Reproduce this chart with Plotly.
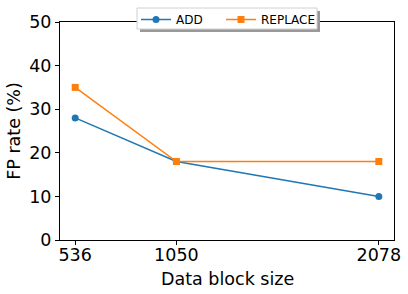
import plotly.graph_objects as go

block_sizes = [536, 1050, 2078]
add_fp = [28, 18, 10]
replace_fp = [35, 18, 18]
y_ticks = [0, 10, 20, 30, 40, 50]

fig = go.Figure()
fig.add_trace(go.Scatter(x=block_sizes, y=add_fp, mode="lines+markers", name="ADD",
                         line=dict(color="#1f77b4", width=1.5),
                         marker=dict(symbol="circle", size=7, color="#1f77b4"),
                         legend="legend"))
fig.add_trace(go.Scatter(x=block_sizes, y=replace_fp, mode="lines+markers", name="REPLACE",
                         line=dict(color="#ff7f0e", width=1.5),
                         marker=dict(symbol="square", size=7, color="#ff7f0e"),
                         legend="legend2"))

W, H = 408, 294
L, R, T, B = 60, 14, 22, 54
pw, ph = W - L - R, H - T - B

def px_x(p):
    return (p - L) / pw

def px_y(p):
    return (H - B - p) / ph

span = block_sizes[-1] - block_sizes[0]
# legend frame shadow and box
fig.add_shape(type="rect", xref="paper", yref="paper",
              x0=px_x(140), x1=px_x(320), y0=px_y(32), y1=px_y(11),
              fillcolor="#999999", line=dict(width=0), layer="above")
fig.add_shape(type="rect", xref="paper", yref="paper",
              x0=px_x(137), x1=px_x(317), y0=px_y(29), y1=px_y(8),
              fillcolor="white", line=dict(width=1, color="#d0d0d0"), layer="above")
fig.add_annotation(text="Data block size", xref="paper", yref="paper",
                   x=0.5, y=px_y(279), xanchor="center", yanchor="middle",
                   showarrow=False, font=dict(size=17.5))

legend_common = dict(orientation="h", xref="container", yref="container",
                     xanchor="left", y=1 - 5 / H, yanchor="top",
                     bgcolor="rgba(0,0,0,0)", borderwidth=0,
                     font=dict(size=12), itemwidth=30)
fig.update_layout(
    width=W, height=H,
    margin=dict(l=L, r=R, t=T, b=B, autoexpand=False),
    plot_bgcolor="white", paper_bgcolor="white",
    font=dict(family="DejaVu Sans", color="black"),
    showlegend=True,
    legend=dict(x=136 / W, **legend_common),
    legend2=dict(x=221 / W, **legend_common),
    xaxis=dict(range=[block_sizes[0] - 0.05 * span, block_sizes[-1] + 0.05 * span],
               tickvals=block_sizes, ticktext=[str(v) for v in block_sizes],
               tickfont=dict(size=17.5), ticks="outside", ticklen=4, tickcolor="black",
               ticklabelstandoff=-5,
               showline=True, linecolor="black", linewidth=1, mirror=True,
               showgrid=False, zeroline=False, automargin=False),
    yaxis=dict(range=[0, 50], tickvals=y_ticks,
               tickfont=dict(size=17.5), ticks="outside", ticklen=4, tickcolor="black",
               showline=True, linecolor="black", linewidth=1, mirror=True,
               showgrid=False, zeroline=False, automargin=False,
               title=dict(text="FP rate (%)", font=dict(size=17.5), standoff=4)),
)
fig.write_html("out.html", config={"displayModeBar": False},
               post_script="document.body.style.margin='0';")
